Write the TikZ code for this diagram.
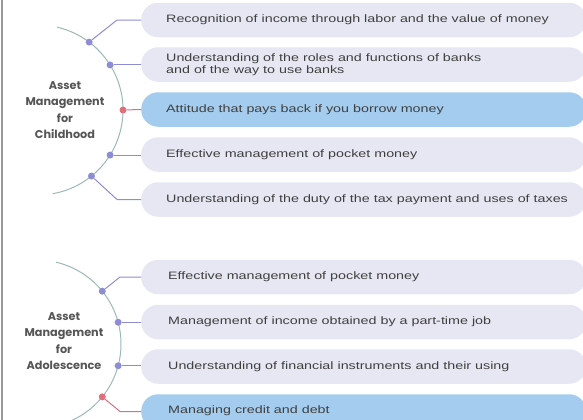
\documentclass[tikz,border=0pt]{standalone}
\usepackage{fontspec}
\setmainfont{Liberation Sans}
\newfontfamily\pillfont[FakeStretch=1.33]{Liberation Sans}
\newfontfamily\labfont{Poppins}
\usetikzlibrary{calc}
\definecolor{pillgray}{HTML}{E6E7F2}
\definecolor{pillblue}{HTML}{A3CCEE}
\definecolor{linkpurple}{HTML}{8F8CD6}
\definecolor{linkred}{HTML}{DF6F7C}
\definecolor{arcgreen}{HTML}{9DB9B5}
\definecolor{txt}{HTML}{404040}
\definecolor{labtxt}{HTML}{555555}
\tikzset{
  pill/.style={draw=none, fill=pillgray, rounded corners=17bp, minimum width=445bp,
    minimum height=34.5bp, anchor=west, inner sep=0pt},
  pillhi/.style={pill, fill=pillblue},
  ptext/.style={anchor=west, font=\pillfont\fontsize{10.8}{12.5}\selectfont, text=txt, align=left, inner sep=0pt},
  dotp/.style={circle, fill=linkpurple, minimum size=7bp, inner sep=0pt},
  dotr/.style={circle, fill=linkred, minimum size=7bp, inner sep=0pt},
  linkp/.style={draw=linkpurple, line width=1bp},
  linkr/.style={draw=linkred, line width=1bp},
  arcline/.style={draw=arcgreen, line width=1bp},
  grouplabel/.style={font=\labfont\bfseries\fontsize{11.3}{16.5}\selectfont, text=labtxt, align=center}
}
\begin{document}
\begin{tikzpicture}[x=1bp,y=-1bp]
\useasboundingbox (0,0) rectangle (583,419);
\clip (0,0) rectangle (583,419);
\draw[draw=gray!80, line width=2bp] (2,-2) -- (2,421);

% ---------- top group ----------
\coordinate (c1) at (38,110);
\draw[arcline] ($(c1)+(-77:85)$) arc[start angle=-77, end angle=80, radius=85];

\node[pill]   (p1) at (141,20)  {};
\node[pill]   (p2) at (141,64.5) {};
\node[pillhi] (p3) at (141,109.5) {};
\node[pill]   (p4) at (141,154.5) {};
\node[pill]   (p5) at (141,199.5) {};

\node[ptext] (t1) at (166,20) {Recognition of income through labor and the value of money};
\node[ptext] (t2) at (166,64.5) {Understanding of the roles and functions of banks\\and of the way to use banks};
\node[ptext] (t3) at (166,109.5) {Attitude that pays back if you borrow money};
\node[ptext] (t4) at (166,154.5) {Effective management of pocket money};
\node[ptext] (t5) at (166,199.5) {Understanding of the duty of the tax payment and uses of taxes};

\node[dotp] (d1) at ($(c1)+(-53:85)$) {};
\node[dotp] (d2) at ($(c1)+(-32:85)$) {};
\node[dotr] (d3) at ($(c1)+(0:85)$) {};
\node[dotp] (d4) at ($(c1)+(32:85)$) {};
\node[dotp] (d5) at ($(c1)+(51:85)$) {};

\coordinate (k1) at (117,20);
\coordinate (k5) at (117,199.5);
\draw[linkp] (d1) -- (k1) -- (p1.west);
\draw[linkp] (d2) -- (d2 -| p2.west);
\draw[linkr] (d3) -- (p3.west);
\draw[linkp] (d4) -- (d4 -| p4.west);
\draw[linkp] (d5) -- (k5) -- (p5.west);

\node[grouplabel] (g1) at (65,110) {Asset\\Management\\for\\Childhood};

% ---------- bottom group ----------
\coordinate (c2) at (37,344);
\draw[arcline] ($(c2)+(-77:84)$) arc[start angle=-77, end angle=75, radius=84];

\node[pill]   (q1) at (141,277) {};
\node[pill]   (q2) at (141,322) {};
\node[pill]   (q3) at (141,366.5) {};
\node[pillhi] (q4) at (141,411.5) {};

\node[ptext] (s1) at (168,277) {Effective management of pocket money};
\node[ptext] (s2) at (168,322) {Management of income obtained by a part-time job};
\node[ptext] (s3) at (168,366.5) {Understanding of financial instruments and their using};
\node[ptext] (s4) at (168,411) {Managing credit and debt};

\node[dotp] (e1) at ($(c2)+(-39:84)$) {};
\node[dotp] (e2) at ($(c2)+(-15:84)$) {};
\node[dotp] (e3) at ($(c2)+(15:84)$) {};
\node[dotr] (e4) at ($(c2)+(39:84)$) {};

\coordinate (m1) at (120,277);
\coordinate (m4) at (120,411.5);
\draw[linkp] (e1) -- (m1) -- (q1.west);
\draw[linkp] (e2) -- (e2 -| q2.west);
\draw[linkp] (e3) -- (e3 -| q3.west);
\draw[linkr] (e4) -- (m4) -- (q4.west);

\node[grouplabel] (g2) at (64,341) {Asset\\Management\\for\\Adolescence};
\end{tikzpicture}
\end{document}
